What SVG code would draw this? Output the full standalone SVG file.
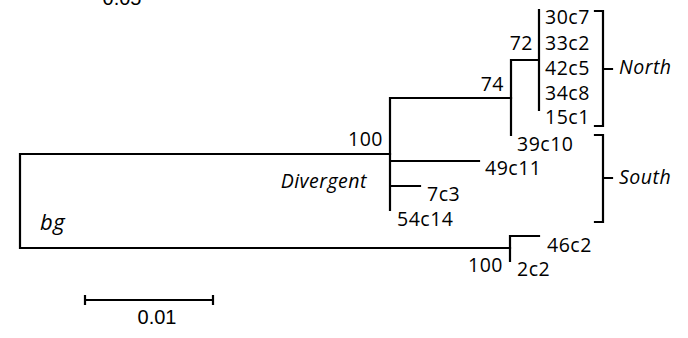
<svg xmlns="http://www.w3.org/2000/svg" width="688" height="338" viewBox="0 0 688 338">
<style>
.ln{fill:none;stroke:#000;stroke-width:2.2;stroke-linecap:square}
.t{font-family:"Open Sans","Liberation Sans",sans-serif;font-size:19.5px;letter-spacing:0.5px;fill:#000}
.i{font-style:italic}
.s{font-family:"Liberation Sans",Arial,sans-serif;font-size:20px;fill:#000}
</style>
<rect width="688" height="338" fill="#fff"/>
<g id="connectors">
<path class="ln" d="M20,154 V248 M20,154 H390 M20,248 H510"/>
<path class="ln" d="M390,98 V210 M390,98 H511 M390,161 H479 M390,186 H420"/>
<path class="ln" d="M511,60 V135 M511,60 H539 M539,10 V110"/>
<path class="ln" d="M510,236 V261 M510,236 H539"/>
<path class="ln" d="M595,11 H603 V126 H595 M603,69 H612"/>
<path class="ln" d="M595,135 H603 V222 H595 M603,178 H612"/>
<path class="ln" d="M85,300 H213 M85,296 V304 M213,296 V304"/>
</g>
<g id="scale-top"><text class="s" x="122" y="5" text-anchor="middle">0.05</text></g>
<g id="n30c7"><text class="t" x="545" y="24">30c7</text></g>
<g id="n33c2"><text class="t" x="545" y="50">33c2</text></g>
<g id="n42c5"><text class="t" x="545" y="75">42c5</text></g>
<g id="n34c8"><text class="t" x="545" y="100">34c8</text></g>
<g id="n15c1"><text class="t" x="545" y="124">15c1</text></g>
<g id="n39c10"><text class="t" x="517" y="151">39c10</text></g>
<g id="n49c11"><text class="t" x="485" y="175">49c11</text></g>
<g id="n7c3"><text class="t" x="427" y="201">7c3</text></g>
<g id="n54c14"><text class="t" x="397" y="226">54c14</text></g>
<g id="n46c2"><text class="t" x="547" y="252">46c2</text></g>
<g id="n2c2"><text class="t" x="517" y="276">2c2</text></g>
<g id="b72"><text class="t" x="533" y="50" text-anchor="end">72</text></g>
<g id="b74"><text class="t" x="504" y="91" text-anchor="end">74</text></g>
<g id="b100a"><text class="t" x="383" y="146" text-anchor="end">100</text></g>
<g id="b100b"><text class="t" x="503" y="272" text-anchor="end">100</text></g>
<g id="north"><text class="t i" x="619" y="74">North</text></g>
<g id="south"><text class="t i" x="619" y="184">South</text></g>
<g id="divergent"><text class="t i" x="367" y="188" text-anchor="end">Divergent</text></g>
<g id="bg"><text class="t i" x="40" y="230" style="font-size:22px">bg</text></g>
<g id="scale"><text class="s" x="157" y="324" text-anchor="middle">0.01</text></g>
</svg>
